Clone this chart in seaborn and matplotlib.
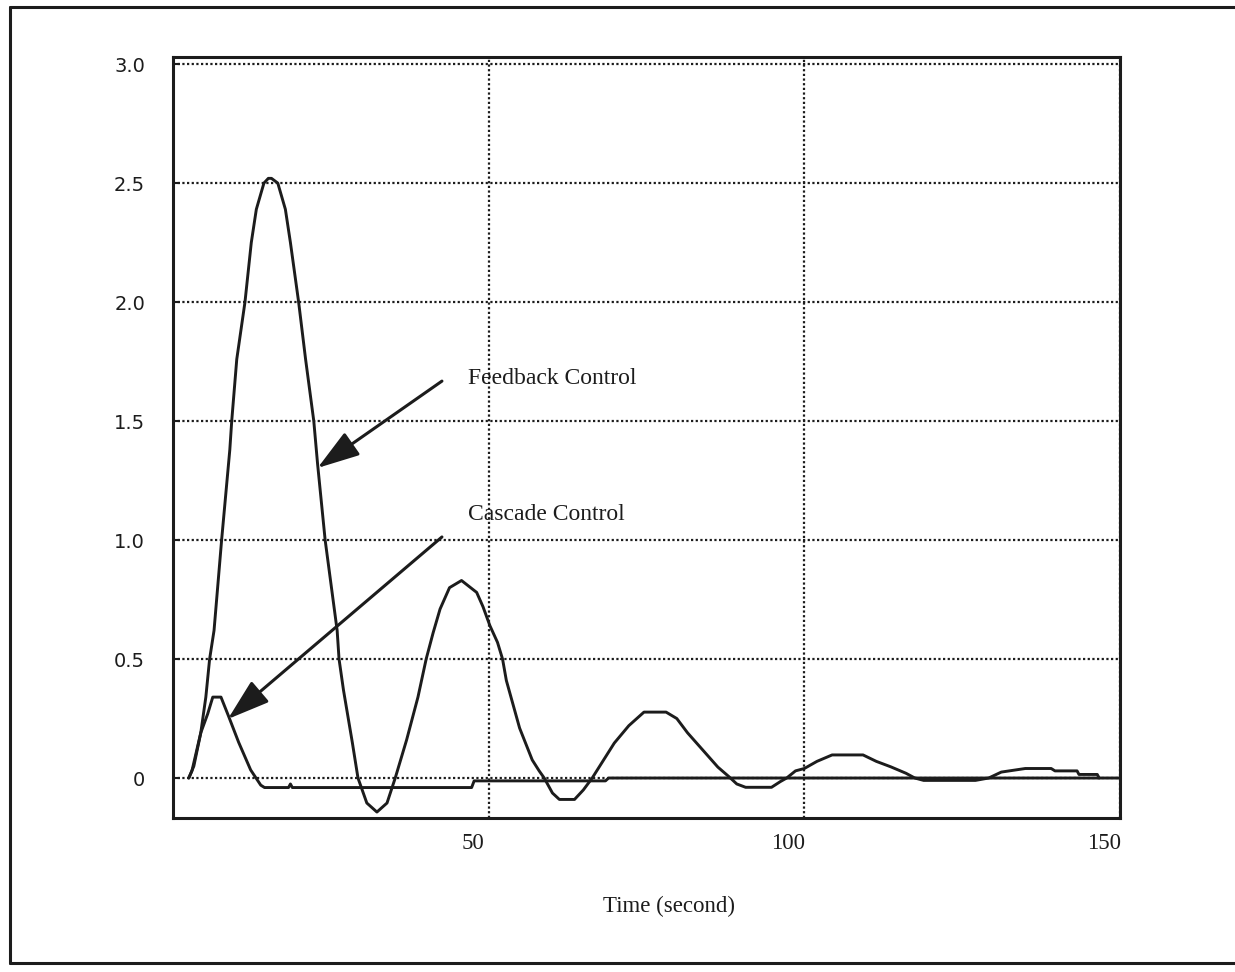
import numpy as np
import pandas as pd
import matplotlib
matplotlib.use("Agg")
import matplotlib.pyplot as plt
import matplotlib.transforms as mtransforms
from matplotlib.lines import Line2D
import seaborn as sns

# ---- data ----
feedback_t = [2.5, 3.3, 4.4, 5.2, 5.8, 6.5, 7.7, 9.0, 9.3, 10.1,
              11.4, 12.4, 13.2, 14.4, 15.1, 15.6, 16.6, 17.8, 18.6, 19.9,
              21.0, 22.3, 22.9, 24.1, 26.0, 26.3, 27.0, 28.4, 29.3, 30.7,
              32.3, 33.9, 35.2, 37.0, 38.8, 40.1, 41.2, 42.3, 43.8, 45.7,
              48.1, 49.1, 50.2, 51.4, 52.2, 52.8, 54.9, 56.9, 58.0, 58.8,
              60.1, 61.2, 63.6, 65.0, 66.4, 69.9, 72.2, 74.6, 78.1, 79.8,
              81.5, 83.9, 86.3, 88.0, 89.3, 90.7, 94.8, 96.2, 97.2, 98.6,
              100.0, 102.0, 104.4, 109.3, 111.4, 113.7, 116.1, 117.5, 118.9, 127.1,
              129.2, 131.2, 135.0, 139.1, 139.7, 143.2, 143.5, 146.4, 146.7]
feedback_y = [0, 0.05, 0.19, 0.34, 0.5, 0.62, 1.0, 1.38, 1.5, 1.76,
              2.0, 2.25, 2.39, 2.5, 2.52, 2.52, 2.5, 2.39, 2.25, 2.0,
              1.76, 1.5, 1.32, 1.0, 0.62, 0.5, 0.37, 0.15, 0.0, -0.105,
              -0.143, -0.105, 0.0, 0.16, 0.34, 0.5, 0.61, 0.71, 0.80, 0.83,
              0.78, 0.72, 0.64, 0.57, 0.5, 0.41, 0.21, 0.076, 0.03, 0.0,
              -0.063, -0.09, -0.09, -0.05, 0.0, 0.147, 0.22, 0.277, 0.277, 0.25,
              0.19, 0.118, 0.046, 0.007, -0.025, -0.039, -0.039, -0.015, 0.0, 0.03,
              0.04, 0.07, 0.097, 0.097, 0.07, 0.047, 0.02, 0.0, -0.01, -0.01,
              0.0, 0.025, 0.04, 0.04, 0.03, 0.03, 0.015, 0.015, 0.0]

cascade_t = [2.5, 3.0, 4.4, 5.5, 6.3, 7.6, 8.8, 10.4, 12.3, 13.9,
             14.5, 18.3, 18.6, 18.9, 47.3, 47.7, 68.5, 69.0, 150.0]
cascade_y = [0, 0.03, 0.19, 0.27, 0.34, 0.34, 0.26, 0.15, 0.034, -0.03,
             -0.04, -0.04, -0.025, -0.04, -0.04, -0.012, -0.012, 0.0, 0.0]

x_ticks = [50, 100, 150]
x_tick_labels = ["50", "100", "150"]
y_ticks = [0, 0.5, 1.0, 1.5, 2.0, 2.5, 3.0]
y_tick_labels = ["0", "0.5", "1.0", "1.5", "2.0", "2.5", "3.0"]

x_label = "Time (second)"
feedback_label = "Feedback Control"
cascade_label = "Cascade Control"

# ---- style ----
sns.set_theme(style="white")
plt.rcParams["font.family"] = ["Liberation Serif", "DejaVu Serif"]

INK = "#1c1c1c"

fig = plt.figure(figsize=(12.35, 9.72), dpi=100)
ax = fig.add_axes([173 / 1235, 1 - 818 / 972, (1120 - 173) / 1235, (818 - 57) / 972])

df_fb = pd.DataFrame({"t": feedback_t, "y": feedback_y})
df_cc = pd.DataFrame({"t": cascade_t, "y": cascade_y})

sns.lineplot(data=df_fb, x="t", y="y", ax=ax, color=INK, lw=2.1,
             estimator=None, sort=False, zorder=3)
sns.lineplot(data=df_cc, x="t", y="y", ax=ax, color=INK, lw=2.1,
             estimator=None, sort=False, zorder=3)

ax.set_xlim(0, 150)
ax.set_ylim(-0.168, 3.03)

ax.set_xticks(x_ticks)
ax.set_xticklabels(x_tick_labels, fontsize=16.5, color=INK)
ax.set_yticks(y_ticks)
ax.set_yticklabels(y_tick_labels, fontsize=14, color=INK,
                   family=["DejaVu Sans"])

ax.tick_params(axis="x", length=0, pad=11)
ax.tick_params(axis="y", direction="in", length=5, width=1.5, color=INK,
               pad=20, left=True)

# shift x tick labels slightly left, as in the reference
offset = mtransforms.ScaledTranslation(-0.16, 0, fig.dpi_scale_trans)
for lab in ax.get_xticklabels():
    lab.set_transform(lab.get_transform() + offset)

ax.grid(True, which="major", linestyle=(0, (1, 1.1)), linewidth=1.6, color=INK)
for s in ax.spines.values():
    s.set_visible(True)
    s.set_linewidth(2.2)
    s.set_color(INK)

ax.set_xlabel(x_label, fontsize=16.5, color=INK)
ax.xaxis.set_label_coords(0.524, -0.102)
ax.set_ylabel("")

# annotations
ax.text(46.7, 1.655, feedback_label, fontsize=17, color=INK,
        ha="left", va="baseline")
ax.text(46.7, 1.084, cascade_label, fontsize=17, color=INK,
        ha="left", va="baseline")

arrow_kw = dict(arrowstyle="-|>,head_length=1.3,head_width=0.42",
                lw=2.2, color=INK, shrinkA=0, shrinkB=0, mutation_scale=20)
ax.annotate("", xy=(22.9, 1.303), xytext=(42.6, 1.668), arrowprops=arrow_kw)
ax.annotate("", xy=(8.7, 0.248), xytext=(42.6, 1.013), arrowprops=arrow_kw)

# outer frame of the scanned figure
fx0, fy0, fy1 = 10 / 1235, 1 - 963 / 972, 1 - 7 / 972
fig.add_artist(Line2D([fx0, fx0], [fy0, fy1], transform=fig.transFigure,
                      color=INK, lw=2.2))
fig.add_artist(Line2D([fx0, 1.0], [fy1, fy1], transform=fig.transFigure,
                      color=INK, lw=2.2))
fig.add_artist(Line2D([fx0, 1.0], [fy0, fy0], transform=fig.transFigure,
                      color=INK, lw=2.2))

fig.savefig("out.png", dpi=100, facecolor="white")
